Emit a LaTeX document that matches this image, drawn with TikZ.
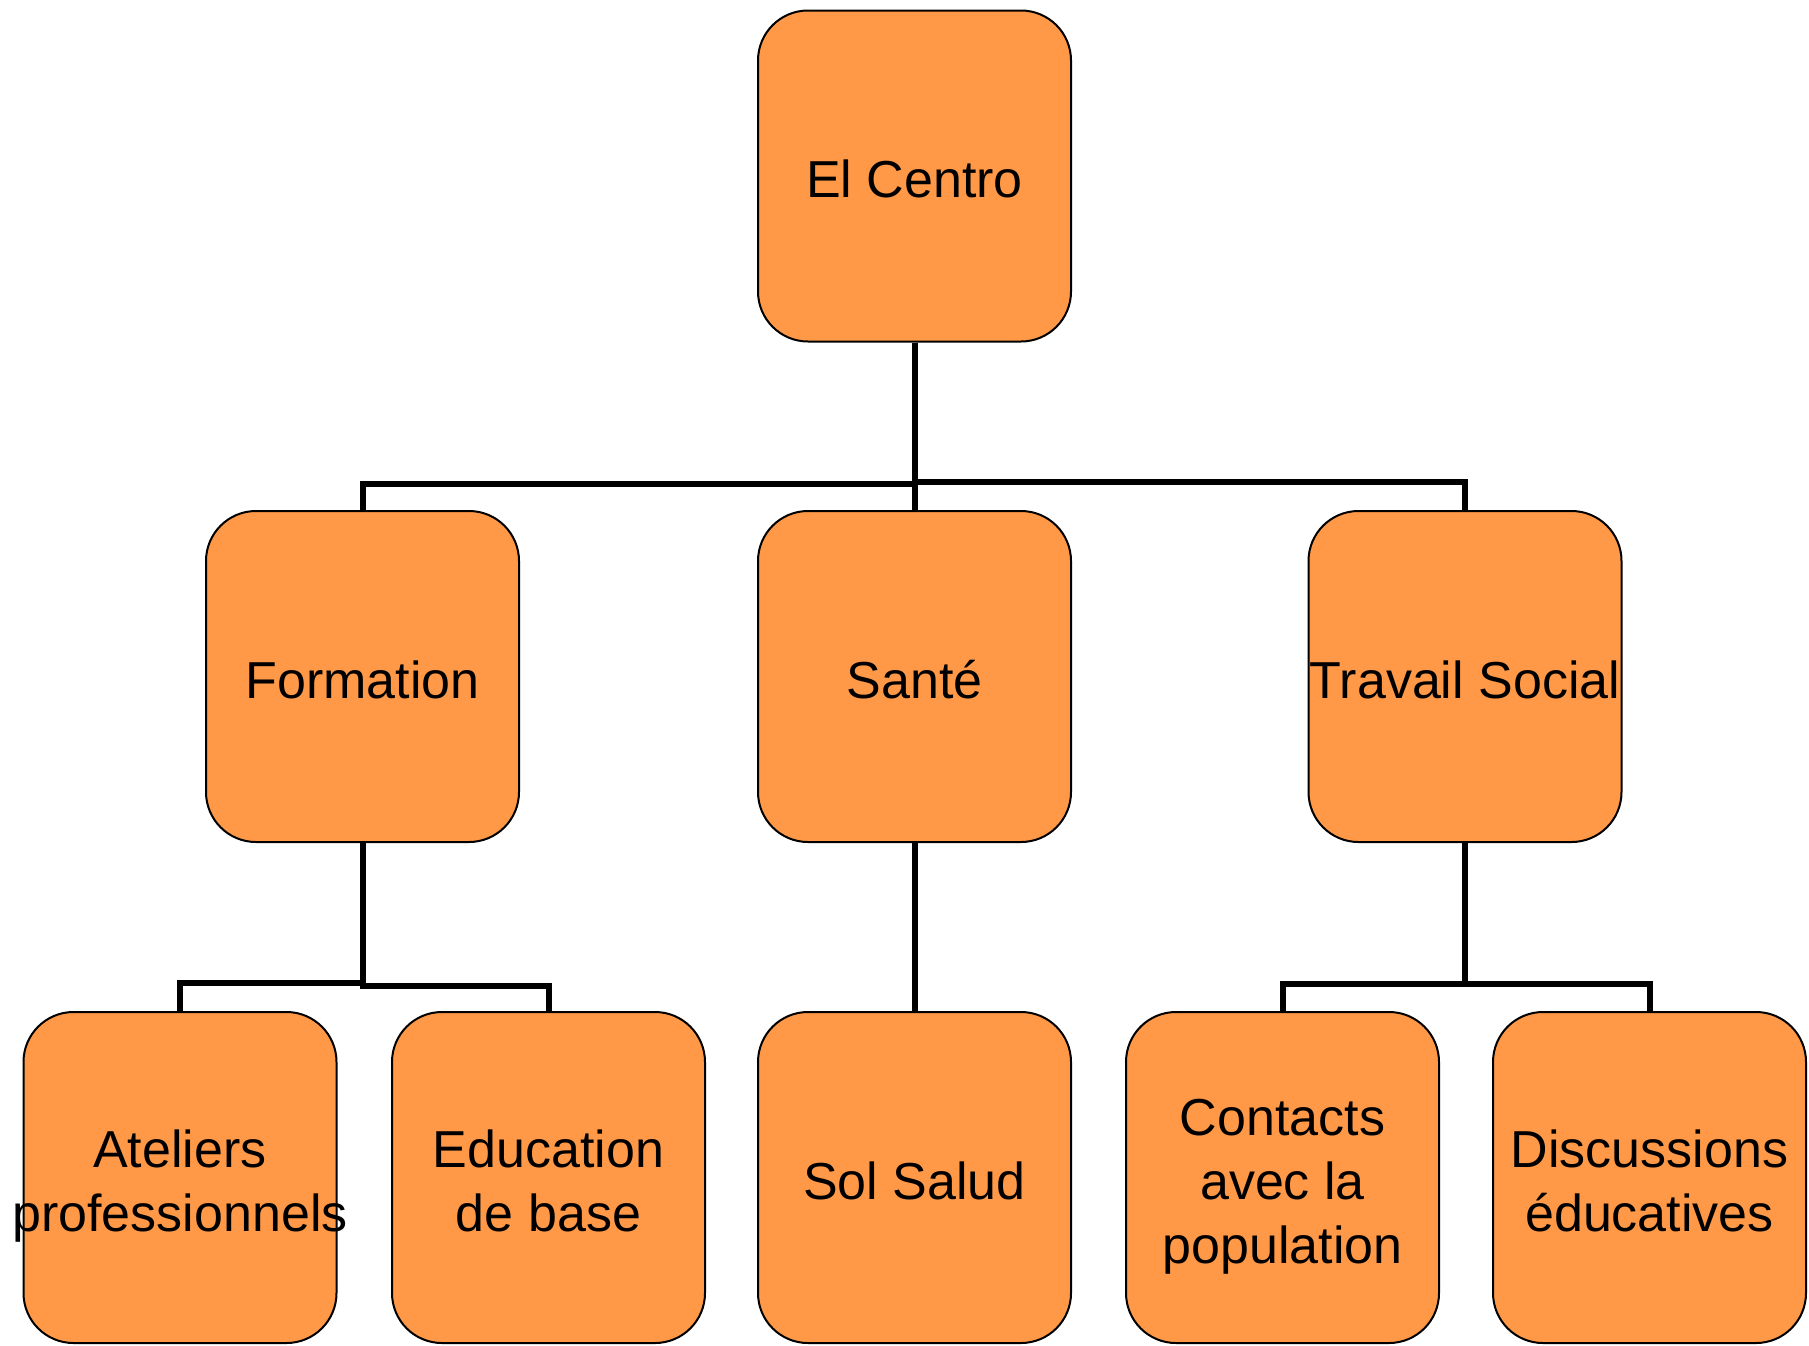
\documentclass[tikz,border=0pt]{standalone}
\usepackage{fontspec}
\setmainfont{Liberation Sans}
\definecolor{boxorange}{HTML}{FF9947}
\begin{document}
\begin{tikzpicture}[x=1pt,y=-1pt,
  box/.style={draw=black,line width=2pt,fill=boxorange,rounded corners=50pt,
    minimum width=313pt,minimum height=331pt,inner sep=0pt},
  txt/.style={inner sep=0pt,align=center,font=\fontsize{52}{64}\selectfont},
  conn/.style={draw=black,line width=6pt}]
\useasboundingbox (0,0) rectangle (1809,1345);
% boxes
\node[box] (c) at (914.5,176) {};
\node[box] (f) at (362.5,676.5) {};
\node[box] (s) at (914.5,676.5) {};
\node[box] (t) at (1465,676.5) {};
\node[box] (a) at (180,1177.5) {};
\node[box] (e) at (548.5,1177.5) {};
\node[box] (sol) at (914.5,1177.5) {};
\node[box] (k) at (1282.5,1177.5) {};
\node[box] (d) at (1649.5,1177.5) {};
% texts
\node[txt] (ct) at ([yshift=-3pt]c.center) {El Centro};
\node[txt] (ft) at ([yshift=-3pt]f.center) {Formation};
\node[txt] (st) at ([yshift=-3pt]s.center) {Santé};
\node[txt] (tt) at ([yshift=-3pt]t.center) {Travail Social};
\node[txt] (at) at ([yshift=-9pt]a.center) {Ateliers\\\makebox[0pt]{professionnels}};
\node[txt] (et) at ([yshift=-3pt]e.center) {Education\\de base};
\node[txt] (solt) at ([yshift=-3pt]sol.center) {Sol Salud};
\node[txt] (kt) at ([yshift=-9pt]k.center) {Contacts\\avec la\\population};
\node[txt] (dt) at ([yshift=-3pt]d.center) {Discussions\\éducatives};
% bus coordinates
\coordinate (b1) at (0,484);
\coordinate (b2) at (0,481.5);
\coordinate (b3) at (0,983);
\coordinate (b4) at (0,985.5);
\coordinate (b5) at (0,984);
% connectors
\draw[conn] (c.south) -- (c.south |- b1) -| (f.north);
\draw[conn] (c.south) -- (c.south |- b2) -| (t.north);
\draw[conn] (c.south) -- (s.north);
\draw[conn] (f.south) -- (f.south |- b3) -| (a.north);
\draw[conn] (f.south) -- (f.south |- b4) -| (e.north);
\draw[conn] (s.south) -- (sol.north);
\draw[conn] (t.south) -- (t.south |- b5) -| (k.north);
\draw[conn] (t.south) -- (t.south |- b5) -| (d.north);
\end{tikzpicture}
\end{document}
